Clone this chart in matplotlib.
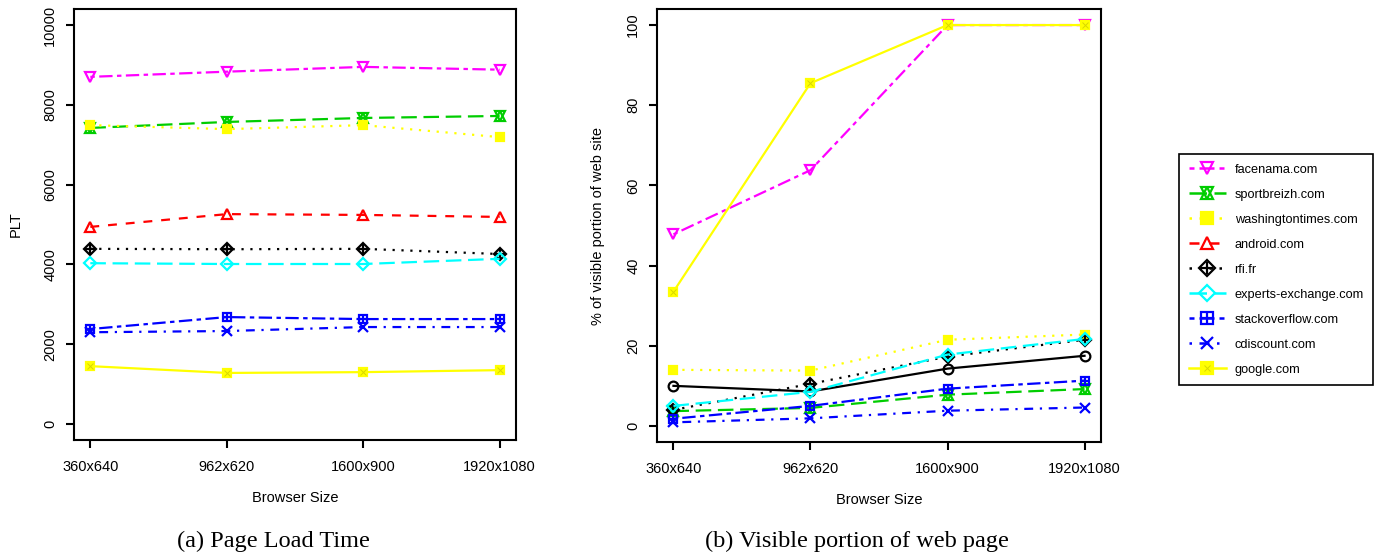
import matplotlib
matplotlib.use('Agg')
import matplotlib.pyplot as plt
from matplotlib.lines import Line2D
from matplotlib.legend_handler import HandlerTuple

plt.rcParams['font.family'] = ['Liberation Sans', 'DejaVu Sans']

sizes = ['360x640', '962x620', '1600x900', '1920x1080']
sites = ['facenama.com', 'sportbreizh.com', 'washingtontimes.com', 'android.com',
         'rfi.fr', 'experts-exchange.com', 'stackoverflow.com', 'cdiscount.com',
         'google.com']

# page load time (ms)
plt_facenama = [8700, 8830, 8950, 8880]
plt_sportbreizh = [7420, 7570, 7670, 7720]
plt_washington = [7490, 7390, 7490, 7190]
plt_android = [4940, 5260, 5240, 5190]
plt_rfi = [4390, 4380, 4390, 4260]
plt_experts = [4030, 4010, 4010, 4140]
plt_stackoverflow = [2380, 2680, 2630, 2630]
plt_cdiscount = [2300, 2330, 2430, 2430]
plt_google = [1450, 1280, 1300, 1350]

# visible portion of web site (%)
vis_facenama = [47.8, 63.8, 100, 100]
vis_sportbreizh = [3.7, 4.5, 7.8, 9.2]
vis_washington = [14.0, 13.8, 21.5, 22.8]
vis_android = [10.0, 8.6, 14.3, 17.5]
vis_rfi = [4.0, 10.5, 17.3, 21.5]
vis_experts = [5.0, 8.5, 17.8, 21.7]
vis_stackoverflow = [1.8, 5.0, 9.3, 11.3]
vis_cdiscount = [0.9, 1.9, 3.8, 4.6]
vis_google = [33.5, 85.5, 100, 100]

GREEN = '#00CD00'
YELLOW = '#FFFF00'
DASHED = (0, (4, 4))
DOTTED = (0, (1, 3))
DOTDASH = (0, (1, 3, 4, 3))
LONGDASH = (0, (7, 3))
TWODASH = (0, (2, 2, 6, 2))

# style per site: colour, linestyle, list of (marker, face, edge, mew)
styles = {
    'facenama.com': ('#FF00FF', TWODASH, [('v', 'none', None, 1.6)]),
    'sportbreizh.com': (GREEN, LONGDASH, [('^', 'none', None, 1.6), ('v', 'none', None, 1.6)]),
    'washingtontimes.com': (YELLOW, DOTTED, [('s', YELLOW, None, 1.6)]),
    'android.com': ('#FF0000', DASHED, [('^', 'none', None, 1.6)]),
    'rfi.fr': ('black', DOTTED, [('D', 'none', None, 1.6), ('+', 'none', None, 1.6)]),
    'experts-exchange.com': ('#00FFFF', LONGDASH, [('D', 'none', None, 1.6)]),
    'stackoverflow.com': ('#0000FF', TWODASH, [('s', 'none', None, 1.6), ('+', 'none', None, 1.6)]),
    'cdiscount.com': ('#0000FF', DOTDASH, [('x', 'none', None, 1.6)]),
    'google.com': (YELLOW, '-', [('s', YELLOW, None, 1.6), ('x', 'none', '#D8D800', 0.7)]),
}


def draw(ax, y, site, override=None):
    col, ls, marks = override if override else styles[site]
    x = range(1, len(y) + 1)
    ax.plot(x, y, color=col, linestyle=ls, lw=1.6)
    for m, face, edge, mew in marks:
        ms = 6 if m in ('D', 's') else 7
        if m == 'x' and edge is not None:
            ms = 4
        ax.plot(x, y, linestyle='none', marker=m, ms=ms, mew=mew,
                mec=edge or col, mfc=face)


def setup(ax, ymax, ylabel):
    ax.set_xlim(0.88, 4.12)
    ax.set_ylim(-0.04 * ymax, 1.04 * ymax)
    ax.set_xticks(range(1, 5))
    ax.set_xticklabels(sizes)
    ticks = [ymax * i / 5 for i in range(6)]
    ax.set_yticks(ticks)
    ax.set_yticklabels(['%d' % t for t in ticks], rotation=90, va='center')
    ax.tick_params(length=6, width=1.5, labelsize=10.5, pad=6)
    ax.tick_params(axis='x', pad=8.5)
    for s in ax.spines.values():
        s.set_linewidth(1.5)
    ax.set_xlabel('Browser Size', fontsize=10.5)
    ax.set_ylabel(ylabel, fontsize=10.5)
    ax.xaxis.set_label_coords(0.5, -0.118)
    ax.yaxis.set_label_coords(-0.117, 0.5)


fig = plt.figure(figsize=(13.8, 5.57), dpi=100)
ax1 = fig.add_axes([0.0536, 0.2101, 0.3203, 0.7737])
ax2 = fig.add_axes([0.4761, 0.2065, 0.3217, 0.7773])

left_data = [plt_facenama, plt_sportbreizh, plt_washington, plt_android, plt_rfi,
             plt_experts, plt_stackoverflow, plt_cdiscount, plt_google]
right_data = [vis_facenama, vis_sportbreizh, vis_washington, vis_android, vis_rfi,
              vis_experts, vis_stackoverflow, vis_cdiscount, vis_google]

for site, y in zip(sites, left_data):
    draw(ax1, y, site)
for site, y in zip(sites, right_data):
    if site == 'android.com':
        draw(ax2, y, site, ('black', '-', [('o', 'none', None, 1.6)]))
    else:
        draw(ax2, y, site)

setup(ax1, 10000, 'PLT')
setup(ax2, 100, '% of visible portion of web site')

# legend
handles = []
for site in sites:
    col, ls, marks = styles[site]
    parts = [Line2D([], [], color=col, linestyle=ls, lw=1.8)]
    for m, face, edge, mew in marks:
        ms = 4 if (m == 'x' and edge is not None) else 8
        parts.append(Line2D([], [], linestyle='none', marker=m, ms=ms, mew=mew,
                            mec=edge or col, mfc=face))
    handles.append(tuple(parts))
leg = fig.legend(handles, sites, loc='upper left', bbox_to_anchor=(0.8543, 0.7235),
                 handler_map={tuple: HandlerTuple(ndivide=1)}, fontsize=9.2,
                 frameon=True, fancybox=False, edgecolor='black', framealpha=1,
                 labelspacing=1.02, handlelength=2.9, handletextpad=0.7,
                 borderpad=0.75, borderaxespad=0)
leg.get_frame().set_linewidth(1.2)

fig.text(273 / 1380, 1 - 541 / 557, '(a) Page Load Time', ha='center', va='center',
         family=['Liberation Serif', 'DejaVu Serif'], fontsize=17.5)
fig.text(857 / 1380, 1 - 541 / 557, '(b) Visible portion of web page', ha='center',
         va='center', family=['Liberation Serif', 'DejaVu Serif'], fontsize=17.5)

fig.savefig('out.png', dpi=100)
